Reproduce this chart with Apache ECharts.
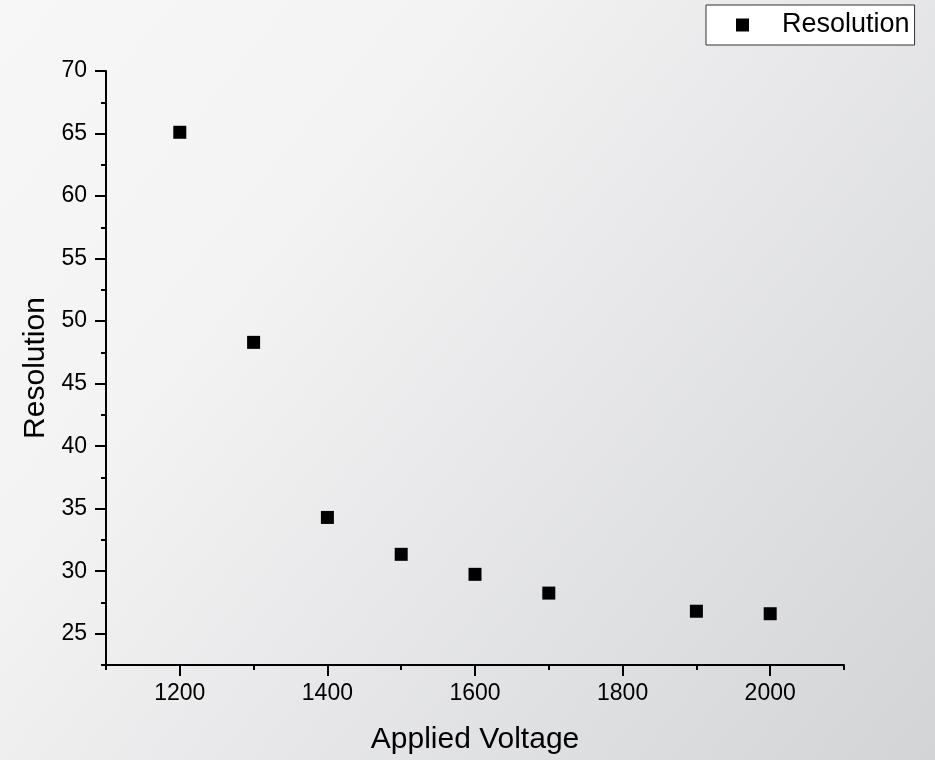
<!DOCTYPE html>
<html>
<head>
<meta charset="utf-8">
<script src="https://cdn.jsdelivr.net/npm/echarts@6/dist/echarts.min.js"></script>
<style>
html,body{margin:0;padding:0;}
#chart{width:935px;height:760px;}
</style>
</head>
<body>
<div id="chart"></div>
<script>
const voltage = [1200, 1300, 1400, 1500, 1600, 1700, 1900, 2000];
const resolution = [65.1, 48.3, 34.3, 31.35, 29.75, 28.25, 26.8, 26.6];
const xTickLabels = [1200, 1400, 1600, 1800, 2000];
const yTickLabels = [25, 30, 35, 40, 45, 50, 55, 60, 65, 70];

const FONT = 'Liberation Sans, Arial, sans-serif';
const chart = echarts.init(document.getElementById('chart'));
const axisCommon = {
  splitLine: {show: false}
};
chart.setOption({
  backgroundColor: {
    type: 'linear', x: 0, y: 0, x2: 1, y2: 1,
    colorStops: [{offset: 0, color: '#f7f7f7'}, {offset: 0.3, color: '#f3f3f4'}, {offset: 1, color: '#d3d4d6'}]
  },
  animation: false,
  grid: {left: 106, right: 91, top: 71, bottom: 95},
  legend: {
    data: [{name: 'Resolution', icon: 'rect'}],
    left: 706, top: 5,
    itemWidth: 13, itemHeight: 13,
    padding: [3, 5, 3, 30],
    backgroundColor: '#ffffff',
    borderColor: '#333333', borderWidth: 1, borderRadius: 0,
    textStyle: {fontFamily: FONT, fontSize: 27, color: '#000', lineHeight: 30, padding: [4, 0, 0, 28]},
    itemStyle: {color: '#000', opacity: 1}
  },
  xAxis: [{
    type: 'value', min: 1100, max: 2100,
    name: 'Applied Voltage', nameLocation: 'middle', nameGap: 60,
    nameTextStyle: {fontFamily: FONT, fontSize: 30, color: '#000'},
    axisLine: {show: true, onZero: false, lineStyle: {color: '#000', width: 2}},
    axisTick: {show: true, customValues: xTickLabels, length: 11, lineStyle: {color: '#000', width: 2}},
    axisLabel: {customValues: xTickLabels, formatter: v => String(v), fontFamily: FONT, fontSize: 23, color: '#000', margin: 17},
    ...axisCommon
  }, {
    type: 'value', min: 1100, max: 2100, interval: 100, position: 'bottom',
    axisLine: {show: false},
    axisTick: {show: true, length: 5, lineStyle: {color: '#000', width: 2}},
    axisLabel: {show: false},
    ...axisCommon
  }],
  yAxis: [{
    type: 'value', min: 22.5, max: 70,
    name: 'Resolution', nameLocation: 'middle', nameGap: 55,
    nameTextStyle: {fontFamily: FONT, fontSize: 30, color: '#000'},
    axisLine: {show: true, onZero: false, lineStyle: {color: '#000', width: 2}},
    axisTick: {show: true, customValues: yTickLabels, length: 11, lineStyle: {color: '#000', width: 2}},
    axisLabel: {customValues: yTickLabels, formatter: v => String(v), fontFamily: FONT, fontSize: 23, color: '#000', margin: 19},
    ...axisCommon
  }, {
    type: 'value', min: 22.5, max: 70, interval: 2.5, position: 'left',
    axisLine: {show: false},
    axisTick: {show: true, length: 5, lineStyle: {color: '#000', width: 2}},
    axisLabel: {show: false},
    ...axisCommon
  }],
  series: [{
    name: 'Resolution', type: 'scatter',
    symbol: 'rect', symbolSize: 13,
    itemStyle: {color: '#000', opacity: 1},
    data: voltage.map((v, i) => [v, resolution[i]])
  }]
});
</script>
</body>
</html>
